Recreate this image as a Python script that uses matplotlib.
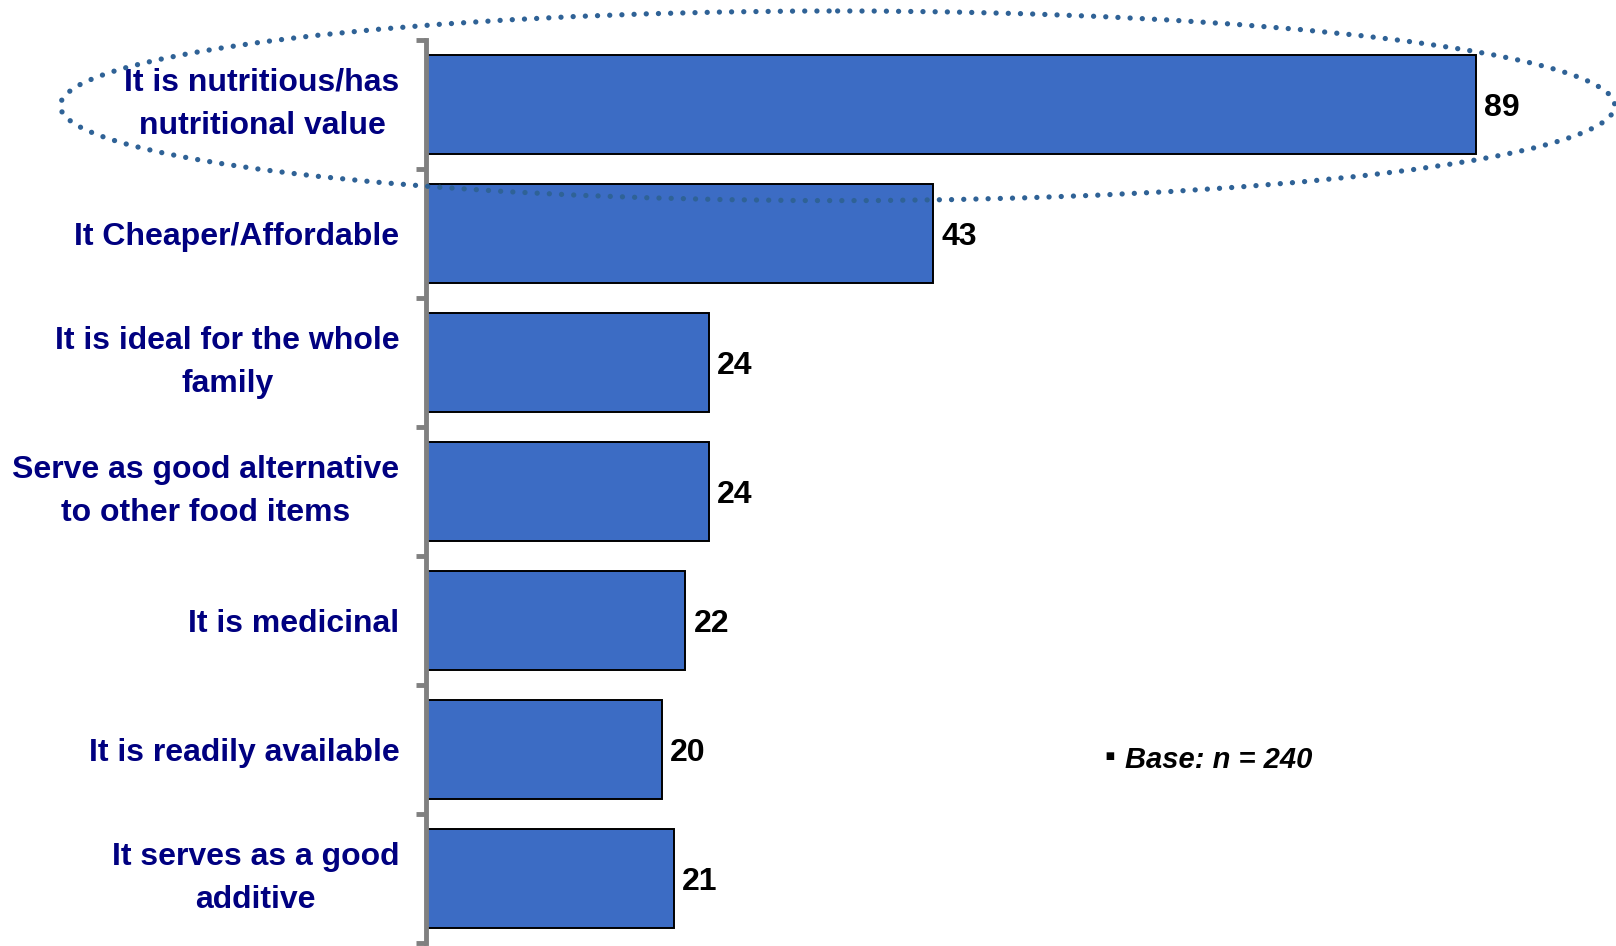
import matplotlib
matplotlib.use("Agg")
import matplotlib.pyplot as plt
from matplotlib.patches import Ellipse

# reasons for choosing the product (% of respondents)
reasons = [
    "It is nutritious/has\nnutritional value",
    "It Cheaper/Affordable",
    "It is ideal for the whole\nfamily",
    "Serve as good alternative\nto other food items",
    "It is medicinal",
    "It is readily available",
    "It serves as a good\nadditive",
]
percent = [89, 43, 24, 24, 22, 20, 21]
base_note = "Base: n = 240"

bar_color = "#3C6CC4"
label_color = "#000080"
ring_color = "#2F6296"

plt.rcParams['font.family'] = ['Liberation Sans', 'DejaVu Sans']

fig = plt.figure(figsize=(16.16, 9.46), dpi=100)
ax = fig.add_axes([426 / 1616, 3 / 946, 1 - 426 / 1616, 903 / 946])

pos = list(range(len(reasons)))
bars = ax.barh(pos, percent, height=0.77, color=bar_color,
               edgecolor="black", linewidth=1.4, zorder=2)

for b, v in zip(bars, percent):
    ax.text(b.get_width() + 0.7, b.get_y() + b.get_height() / 2, str(v),
            ha="left", va="center_baseline", fontsize=23, fontweight="bold",
            color="black")

ax.set_xlim(0, 100.9)
ax.set_ylim(len(reasons) - 0.5, -0.5)

# category names at bar centres, tick marks at the boundaries
ax.set_yticks(pos)
ax.set_yticklabels(reasons, fontsize=23, fontweight="bold", color=label_color,
                   multialignment="center", linespacing=1.58)
for lab in ax.get_yticklabels():
    lab.set_va("center" if "\n" in lab.get_text() else "center_baseline")
ax.tick_params(axis="y", which="major", length=0, pad=19)
ax.set_yticks([p - 0.5 for p in pos] + [len(reasons) - 0.5], minor=True)
ax.tick_params(axis="y", which="minor", length=7, width=3.5, color="#808080")
ax.set_xticks([])

for s in ["top", "right", "bottom"]:
    ax.spines[s].set_visible(False)
ax.spines["left"].set_color("#808080")
ax.spines["left"].set_linewidth(3.5)
ax.spines["left"].set_zorder(3)

# dotted ring around the top answer
ring = Ellipse((34.9, 0.01), width=131.8, height=1.47, fill=False,
               edgecolor=ring_color, linewidth=3.8, linestyle=(0, (0.01, 2.3)),
               capstyle="round", clip_on=False, zorder=4)
ax.add_patch(ring)

fig.text(1104 / 1616, 1 - 758 / 946, "\u25aa", fontsize=22, fontweight="bold",
         ha="left", va="center", color="black")
fig.text(1125 / 1616, 1 - 760 / 946, base_note, fontsize=21, fontweight="bold",
         fontstyle="italic", ha="left", va="center", color="black")

fig.savefig("out.png", dpi=100)
